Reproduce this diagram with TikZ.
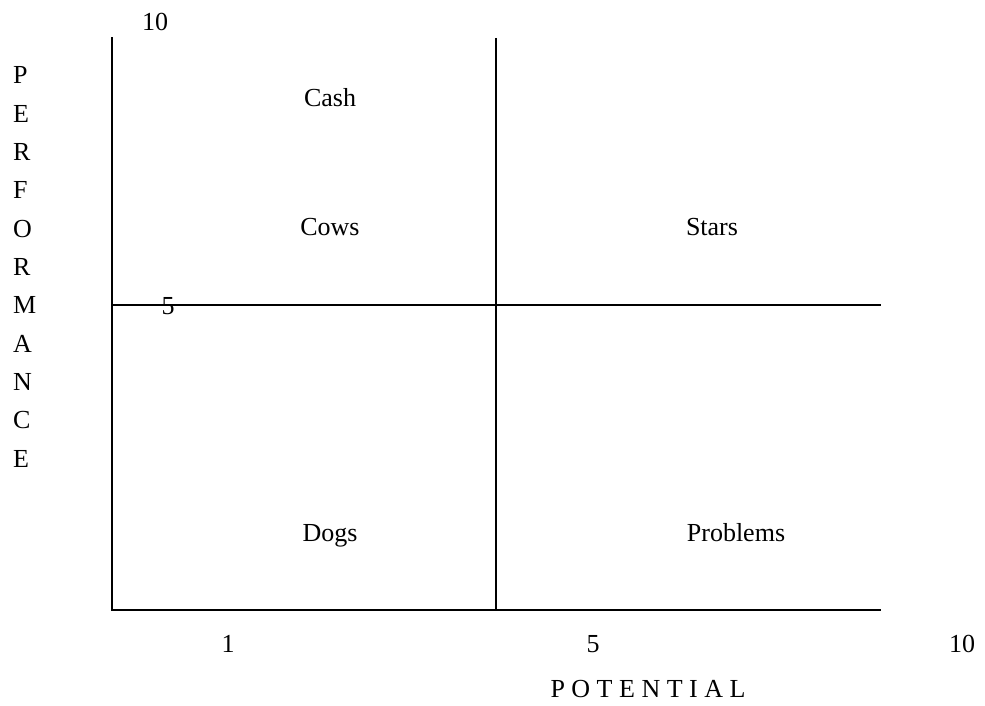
\documentclass[tikz,border=0pt]{standalone}
\usepackage{fontspec}
\setmainfont{Liberation Serif}
\begin{document}
\begin{tikzpicture}[x=1pt,y=-1pt,
  lbl/.style={inner sep=0pt, anchor=base, font=\fontsize{26}{30}\selectfont},
  axis/.style={line width=2pt, line cap=rect},
  mid/.style={line width=1.4pt}]
\useasboundingbox[fill=white] (0,0) rectangle (985,706);
% frame coordinates
\coordinate (tl) at (112,38);
\coordinate (bl) at (112,610);
\coordinate (br) at (880,610);
\coordinate (tm) at (496,38);
\coordinate (bm) at (496,610);
\coordinate (ml) at (112,305);
\coordinate (mr) at (880,305);
\draw[axis] (tl) -- (bl) -- (br);
\draw[mid] (tm) -- (bm);
\draw[axis] (ml) -- (mr);
% axis numbers
\node[lbl] (t10) at (155,31) {10};
\node[lbl] (t5) at (168,314) {5};
\node[lbl] (b1) at (228,652) {1};
\node[lbl] (b5) at (593,652) {5};
\node[lbl] (b10) at (962,652) {10};
% quadrant labels
\node[lbl] (cash) at (330,107) {Cash};
\node[lbl] (cows) at (330,235) {Cows};
\node[lbl] (stars) at (712,235) {Stars};
\node[lbl] (dogs) at (330,541) {Dogs};
\node[lbl] (prob) at (736,541) {Problems};
% axis titles
\foreach \ch [count=\i from 0] in {P,E,R,F,O,R,M,A,N,C,E}
  \node[lbl, anchor=base west] (perf\i) at (13,{84+38.3*\i}) {\ch};
\node[lbl] (pot) at (648,697) {P O T E N T I A L};
\end{tikzpicture}
\end{document}
